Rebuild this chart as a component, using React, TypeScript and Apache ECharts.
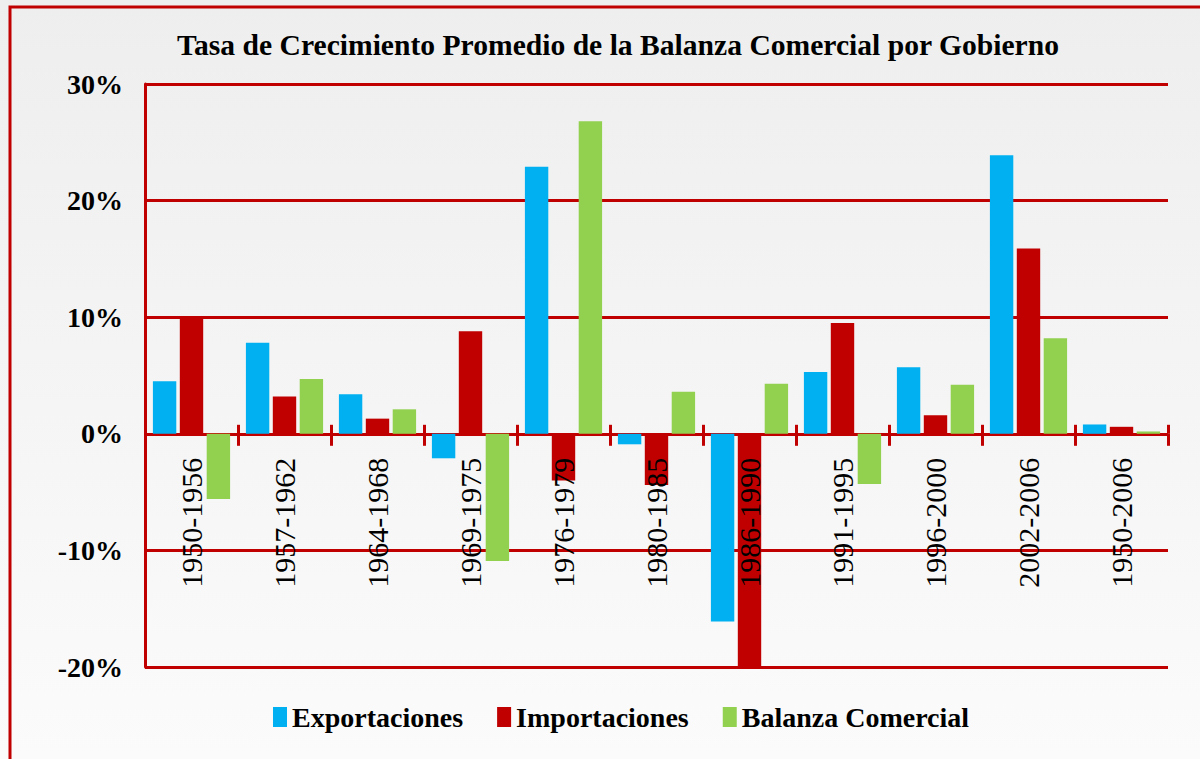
import React, { useEffect, useRef } from "react";
import * as echarts from "echarts";

const categories = [
  "1950-1956", "1957-1962", "1964-1968", "1969-1975", "1976-1979", "1980-1985",
  "1986-1990", "1991-1995", "1996-2000", "2002-2006", "1950-2006",
];
const exportaciones = [4.5, 7.8, 3.4, -2.1, 22.9, -0.9, -16.1, 5.3, 5.7, 23.9, 0.8];
const importaciones = [10.0, 3.2, 1.3, 8.8, -4.0, -4.4, -20.0, 9.5, 1.6, 15.9, 0.6];
const balanza = [-5.6, 4.7, 2.1, -10.9, 26.8, 3.6, 4.3, -4.3, 4.2, 8.2, 0.2];
const seriesNames = ["Exportaciones", "Importaciones", "Balanza Comercial"];
const seriesColors = ["#00B0F0", "#C00000", "#92D050"];
const titleText = "Tasa de Crecimiento Promedio de la Balanza Comercial por Gobierno";

const FONT = "'Liberation Serif', 'Times New Roman', serif";
const RED = "#C00000";

export default function App() {
  const ref = useRef<HTMLDivElement>(null);
  useEffect(() => {
    if (!ref.current) return;
    const chart = echarts.init(ref.current, null, { renderer: "svg" });
    const data = [exportaciones, importaciones, balanza];
    const base = { left: 145, right: 32, containLabel: false, outerBoundsMode: "none" };
    // zero line of the main grid lies at 84 + 30/50 * 583 = 433.8 px
    const hiddenY = (gridIndex: number) => ({
      type: "value",
      gridIndex,
      min: 0,
      max: 1,
      show: false,
      axisLine: { show: false },
      axisTick: { show: false },
      axisLabel: { show: false },
      splitLine: { show: false },
    });
    chart.setOption({
      animation: false,
      backgroundColor: new echarts.graphic.LinearGradient(0, 0, 0, 1, [
        { offset: 0, color: "#EEEEEE" },
        { offset: 1, color: "#FBFBFB" },
      ]),
      title: {
        text: titleText,
        left: 172,
        top: 25,
        textStyle: { fontFamily: FONT, fontSize: 29.6, fontWeight: "bold", color: "#000" },
      },
      graphic: [
        {
          type: "rect",
          shape: { x: 10, y: 7, width: 1400, height: 1000 },
          style: { fill: "none", stroke: RED, lineWidth: 3 },
          silent: true,
        },
      ],
      legend: {
        left: 268,
        top: 698,
        itemWidth: 14,
        itemHeight: 20,
        itemGap: 34,
        icon: "rect",
        textStyle: { fontFamily: FONT, fontSize: 28, fontWeight: "bold", color: "#000" },
        data: seriesNames,
      },
      grid: [
        { ...base, top: 84, bottom: 92 },
        { ...base, top: 84, bottom: 325.2 },
        { ...base, top: 433.8, bottom: 92 },
      ],
      xAxis: [
        {
          type: "category",
          gridIndex: 0,
          data: categories,
          axisLine: { show: false },
          axisTick: { show: false },
          axisLabel: { show: false },
          splitLine: { show: false },
        },
        {
          type: "category",
          gridIndex: 1,
          data: categories,
          position: "bottom",
          z: 10,
          axisLine: { show: false, onZero: false },
          axisTick: { show: true, length: 12, lineStyle: { color: RED, width: 3 } },
          axisLabel: {
            rotate: 90,
            margin: 24,
            interval: 0,
            fontFamily: FONT,
            fontSize: 30,
            color: "#000",
          },
          splitLine: { show: false },
        },
        {
          type: "category",
          gridIndex: 2,
          data: categories,
          position: "top",
          z: 10,
          axisLine: { show: false, onZero: false },
          axisTick: { show: true, length: 9, lineStyle: { color: RED, width: 3 } },
          axisLabel: { show: false },
          splitLine: { show: false },
        },
      ],
      yAxis: [
        {
          type: "value",
          gridIndex: 0,
          min: -20,
          max: 30,
          interval: 10,
          axisLine: { show: true, lineStyle: { color: RED, width: 3 } },
          axisTick: { show: false },
          axisLabel: {
            margin: 22,
            formatter: "{value}%",
            fontFamily: FONT,
            fontSize: 28,
            fontWeight: "bold",
            color: "#000",
          },
          splitLine: { show: true, lineStyle: { color: RED, width: 3 } },
        },
        hiddenY(1),
        hiddenY(2),
      ],
      series: seriesNames.map((name, i) => ({
        name,
        type: "bar",
        xAxisIndex: 0,
        yAxisIndex: 0,
        data: data[i],
        barGap: "15%",
        barCategoryGap: "17%",
        itemStyle: { color: seriesColors[i] },
      })),
    });
    return () => chart.dispose();
  }, []);
  return (
    <div
      ref={ref}
      style={{ position: "fixed", left: 0, top: 0, width: 1200, height: 759 }}
    />
  );
}
